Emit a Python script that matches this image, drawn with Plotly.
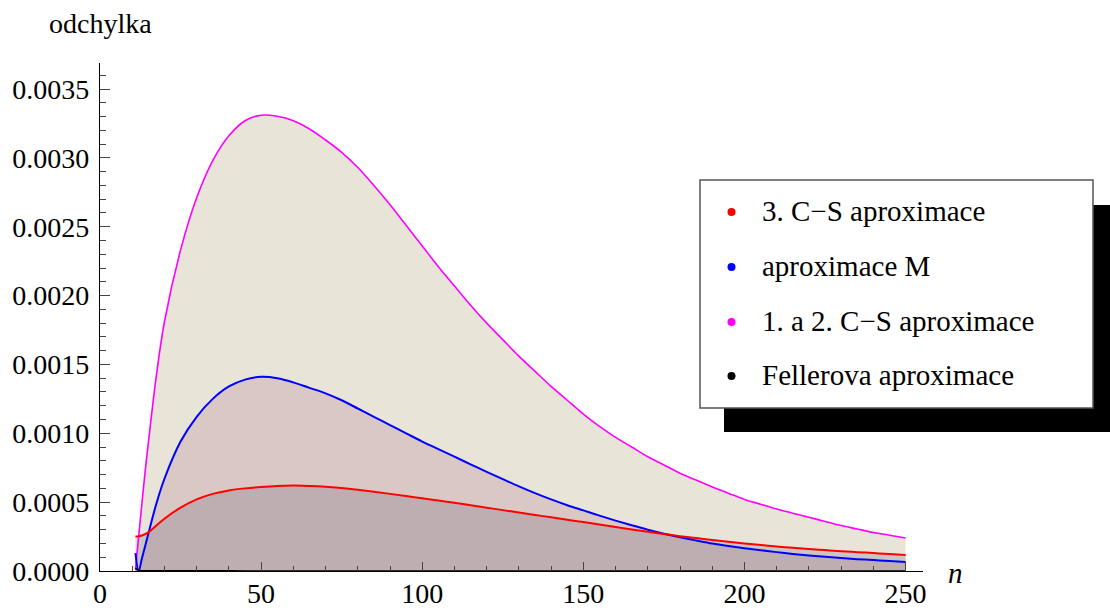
import plotly.graph_objects as go

# ---------------- data ----------------
n_values = [11, 12, 13, 14, 15, 17.5, 20, 25, 30, 35, 40, 45, 50, 55, 60, 65, 70, 75, 80, 85,
            90, 95, 100, 105, 110, 115, 120, 125, 130, 135, 140, 145, 150, 155, 160, 165,
            170, 175, 180, 185, 190, 195, 200, 205, 210, 215, 220, 225, 230, 235, 240, 245,
            250]

cs3 = [0.00025, 0.000252, 0.000258, 0.000268, 0.00028, 0.00033, 0.00038, 0.00046, 0.00052,
       0.00056, 0.000585, 0.0006, 0.00061, 0.000617, 0.00062, 0.000618, 0.000612, 0.000602,
       0.00059, 0.000576, 0.00056, 0.000544, 0.000528, 0.000512, 0.000495, 0.000478,
       0.00046, 0.000442, 0.000425, 0.000407, 0.00039, 0.000372, 0.000355, 0.000337,
       0.00032, 0.000302, 0.000285, 0.000269, 0.000253, 0.000239, 0.000225, 0.000212,
       0.0002, 0.000189, 0.000178, 0.000169, 0.00016, 0.000152, 0.000144, 0.000137,
       0.00013, 0.000123, 0.000117]

aprox_m = [0.00013, 0.0, 0.00009, 0.00018, 0.00027, 0.00049, 0.00067, 0.00094, 0.00112,
           0.00125, 0.00134, 0.00139, 0.00141, 0.0014, 0.00137, 0.00133, 0.00129, 0.00124,
           0.00118, 0.00112, 0.00106, 0.001, 0.00094, 0.000885, 0.00083, 0.000775, 0.00072,
           0.000667, 0.000615, 0.000566, 0.00052, 0.000478, 0.00044, 0.000402, 0.000366,
           0.000332, 0.0003, 0.000271, 0.000245, 0.000222, 0.0002, 0.000182, 0.000166,
           0.000151, 0.000137, 0.000124, 0.000113, 0.000103, 0.000094, 0.000086, 0.000079,
           0.000072, 0.000066]

cs12 = [0.00001, 0.00025, 0.00049, 0.00072, 0.00093, 0.00142, 0.00181, 0.00233, 0.00271,
        0.00298, 0.00316, 0.00327, 0.00331, 0.003302, 0.00327, 0.00321, 0.00313, 0.00304,
        0.00293, 0.0028, 0.00266, 0.00251, 0.00236, 0.00221, 0.00207, 0.00193, 0.0018,
        0.00168, 0.00156, 0.00145, 0.00134, 0.00124, 0.00114, 0.00105, 0.00097, 0.0009,
        0.00083, 0.00077, 0.00071, 0.00066, 0.00061, 0.000565, 0.00052, 0.000485, 0.00045,
        0.00042, 0.00039, 0.00036, 0.00033, 0.000305, 0.00028, 0.00026, 0.00024]

feller = [0.00002, 0.000005, 0.000002, 0.0000018, 0.0000015, 0.0000012, 0.000001, 0.0000009,
          0.0000008, 0.0000007, 0.0000006, 0.0000005, 0.0000005, 0.0000004, 0.0000004,
          0.0000004, 0.0000003, 0.0000003, 0.0000003, 0.0000003, 0.0000002, 0.0000002,
          0.0000002, 0.0000002, 0.0000002, 0.0000002, 0.0000001, 0.0000001, 0.0000001,
          0.0000001, 0.0000001, 0.0000001, 0.0000001, 0.0000001, 0.0000001, 0.0000001,
          0.0000001, 0.0000001, 0.0, 0.0, 0.0, 0.0, 0.0, 0.0, 0.0, 0.0, 0.0, 0.0, 0.0, 0.0,
          0.0, 0.0, 0.0]

series_names = ["3. C\u2212S aproximace", "aproximace M", "1. a 2. C\u2212S aproximace",
                "Fellerova aproximace"]
series_colors = ["#FF0000", "#0000FF", "#FF00FF", "#000000"]

x_ticks = [0, 50, 100, 150, 200, 250]
y_ticks = [0.0, 0.0005, 0.0010, 0.0015, 0.0020, 0.0025, 0.0030, 0.0035]

# ---------------- layout geometry (pixels) ----------------
W, H = 1110, 612
L, R, T, B = 100, 187, 63, 41
PW, PH = W - L - R, H - T - B
FONT = "Liberation Serif, Times New Roman, serif"


def px(xp):
    return (xp - L) / PW


def py(yp):
    return (H - B - yp) / PH


fig = go.Figure()

# fills first, lines on top
fills = [
    (cs12, "rgb(232,229,216)"),
    (aprox_m, "rgba(182,132,146,0.30)"),
    (cs3, "rgba(92,70,105,0.20)"),
    (feller, "rgba(0,0,0,0.15)"),
]
for ys, fc in fills:
    fig.add_trace(go.Scatter(x=n_values, y=ys, mode="lines", fill="tozeroy",
                             fillcolor=fc, line=dict(width=0, shape="spline", smoothing=1.0),
                             hoverinfo="skip", showlegend=False))

lines = [(cs12, series_colors[2], 1.6), (aprox_m, series_colors[1], 2.0),
         (cs3, series_colors[0], 2.0), (feller, series_colors[3], 1.6)]
for ys, c, w in lines:
    fig.add_trace(go.Scatter(x=n_values, y=ys, mode="lines",
                             line=dict(color=c, width=w, shape="spline", smoothing=1.0),
                             showlegend=False))

axis_common = dict(showgrid=False, zeroline=False, showline=True, linecolor="black",
                   linewidth=1.2, ticks="inside", tickcolor="#444", tickwidth=1,
                   automargin=False,
                   tickfont=dict(family=FONT, size=28, color="black"))

fig.update_xaxes(range=[0, 255.4], tickvals=x_ticks, ticklen=9, ticklabelstandoff=-3,
                 minor=dict(ticks="inside", ticklen=5, tickcolor="#444", tickwidth=1,
                            dtick=10, tick0=0),
                 **axis_common)
fig.update_yaxes(range=[0, 0.003689], tickvals=y_ticks, tickformat=".4f", ticklen=10,
                 ticklabelstandoff=4,
                 minor=dict(ticks="inside", ticklen=6, tickcolor="#444", tickwidth=1,
                            dtick=0.0001, tick0=0),
                 **axis_common)

shapes = []
# legend shadow and box
shapes.append(dict(type="rect", xref="paper", yref="paper", x0=px(724), x1=px(1130),
                   y0=py(432), y1=py(205), fillcolor="black", line=dict(width=0),
                   layer="above"))
shapes.append(dict(type="rect", xref="paper", yref="paper", x0=px(700), x1=px(1093),
                   y0=py(408), y1=py(180), fillcolor="white",
                   line=dict(color="#555", width=1.5), layer="above"))
annotations = []
row_y = [212, 267, 322, 376]
for name, color, ry in zip(series_names, series_colors, row_y):
    shapes.append(dict(type="circle", xref="paper", yref="paper", xsizemode="pixel",
                       ysizemode="pixel", xanchor=px(731.5), yanchor=py(ry),
                       x0=-4, x1=4, y0=-4, y1=4, fillcolor=color,
                       line=dict(width=0), layer="above"))
    annotations.append(dict(text=name, xref="paper", yref="paper", x=px(760), y=py(ry - 1),
                            xanchor="left", yanchor="middle", showarrow=False,
                            font=dict(family=FONT, size=29, color="black")))

annotations.append(dict(text="odchylka", xref="paper", yref="paper", x=px(100), y=py(24),
                        xanchor="center", yanchor="middle", showarrow=False,
                        font=dict(family=FONT, size=28, color="black")))
annotations.append(dict(text="<i>n</i>", xref="paper", yref="paper", x=px(955), y=py(573),
                        xanchor="center", yanchor="middle", showarrow=False,
                        font=dict(family=FONT, size=29, color="black")))

fig.update_layout(width=W, height=H, margin=dict(l=L, r=R, t=T, b=B),
                  paper_bgcolor="white", plot_bgcolor="white",
                  font=dict(family=FONT),
                  shapes=shapes, annotations=annotations, showlegend=False)

fig.write_html("out.html")
